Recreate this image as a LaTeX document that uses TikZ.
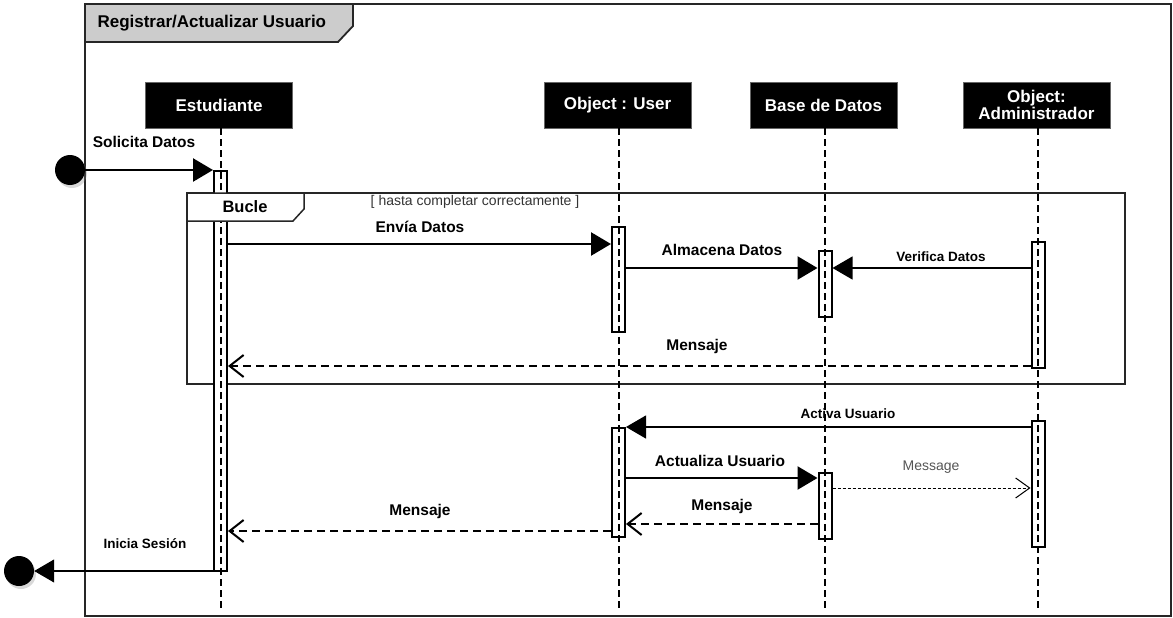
\documentclass[tikz,border=0pt]{standalone}
\usepackage{fontspec}
\setmainfont{Liberation Sans}
\usetikzlibrary{arrows.meta, positioning, calc, shadows}
\definecolor{tabgray}{HTML}{CCCCCC}
\definecolor{notegray}{HTML}{555555}

\begin{document}
\begin{tikzpicture}[x=1pt, y=-1pt,
  frame/.style={draw=black!85, line width=2pt},
  tab/.style={draw=black!85, line width=1.8pt, fill=#1},
  actor/.style={rectangle, fill=black, draw=black!60, text=white, font=\fontsize{17}{15.5}\selectfont\bfseries, minimum width=147pt, minimum height=46pt, align=center, inner sep=0pt},
  bar/.style={rectangle, draw=black, fill=white, line width=2pt, minimum width=13pt, minimum height=#1, inner sep=0pt},
  lifeline/.style={line width=2pt, dash pattern=on 7pt off 4pt},
  dot/.style={circle, fill=black, minimum size=30pt, inner sep=0pt, drop shadow={shadow xshift=2pt, shadow yshift=-3pt, opacity=0.3}},
  call/.style={line width=2.5pt, -{Triangle[length=20pt, width=23pt]}},
  signal/.style={line width=1.2pt, -{Triangle[length=20pt, width=23pt]}},
  reply/.style={line width=2.5pt, dash pattern=on 8pt off 5pt, -{Straight Barb[length=14pt, width=22pt, line width=2pt]}},
  note/.style={line width=1pt, dash pattern=on 3pt off 2pt, -{Straight Barb[length=14pt, width=20pt, line width=1pt]}},
  lbl/.style={font=\fontsize{15.5}{16}\selectfont\bfseries, inner sep=0pt},
  small/.style={font=\fontsize{13.5}{14}\selectfont\bfseries, inner sep=0pt},
  guard/.style={font=\fontsize{14}{14}\selectfont, text=#1, inner sep=0pt},
  guard/.default=black!80
]
  \useasboundingbox (0,0) rectangle (1173,618);

  % outer frame
  \draw[frame] (85,4) rectangle (1171,616);
  \draw[tab=tabgray] (85,4) -- (353,4) -- (353,26) -- (338,42) -- (85,42) -- cycle;
  \node[font=\fontsize{17}{17}\selectfont\bfseries, anchor=west] (title) at (94,23) {Registrar/Actualizar Usuario};

  % loop fragment
  \draw[frame, line width=1.5pt] (187,193) rectangle (1125,384);

  % lifeline heads
  \node[actor] (est) at (219,105) {Estudiante};
  \node[actor] (usr) at (617.5,105) {Object : User};
  \node[actor] (bd) at (823.5,105) {Base de Datos};
  \node[actor] (adm) at (1036.5,105) {Object:\\Administrador};

  % activations
  \node[bar=400pt] (estbar) at (220.5,371) {};
  \node[bar=105pt] (usr1) at (618.5,279.5) {};
  \node[bar=109pt] (usr2) at (618.5,482.5) {};
  \node[bar=66pt] (bd1) at (825,284) {};
  \node[bar=66pt] (bd2) at (825,506) {};
  \node[bar=126pt] (adm1) at (1038,305) {};
  \node[bar=126pt] (adm2) at (1038,484) {};

  \draw[lifeline] (est.south -| estbar) -- (estbar |- 0,612);
  \draw[lifeline] (usr.south -| usr1) -- (usr1 |- 0,612);
  \draw[lifeline] (bd.south -| bd1) -- (bd1 |- 0,612);
  \draw[lifeline] (adm.south -| adm1) -- (adm1 |- 0,612);

  % loop tab on top
  \draw[tab=white, line width=1.5pt] (187,193) -- (304,193) -- (304,209) -- (293,221) -- (187,221) -- cycle;
  \node[font=\fontsize{16.5}{17}\selectfont\bfseries] (bucle) at (245,207) {Bucle};
  \node[guard] (cond) at (475,202) {[ hasta completar correctamente ]};

  % start and end
  \node[dot] (ini) at (70,170) {};
  \node[dot] (fin) at (19,571) {};

  % messages
  \draw[call] (ini.east) -- (estbar.west |- ini);
  \node[lbl] (lsol) at (144,142) {Solicita Datos};

  \draw[call] (estbar.east |- 0,244) -- (usr1.west |- 0,244);
  \node[lbl] (lenv) at (420,227) {Envía Datos};

  \draw[call] (usr1.east |- 0,268) -- (bd1.west |- 0,268);
  \node[lbl] (lalm) at (722,250) {Almacena Datos};

  \draw[signal] (adm1.west |- 0,268) -- (bd1.east |- 0,268);
  \node[small] (lver) at (941,257) {Verifica Datos};

  \draw[reply] (adm1.west |- 0,366) -- (estbar.east |- 0,366);
  \node[lbl] (lmen1) at (697,346) {Mensaje};

  \draw[signal] (adm2.west |- 0,427) -- (usr2.east |- 0,427);
  \node[small] (lact) at (848,414) {Activa Usuario};

  \draw[call] (usr2.east |- 0,478) -- (bd2.west |- 0,478);
  \node[lbl] (lupd) at (720,461) {Actualiza Usuario};

  \draw[note] (bd2.east |- 0,488) -- (adm2.west |- 0,488);
  \node[guard=notegray] (lmsg) at (931,467) {Message};

  \draw[reply] (bd2.west |- 0,524) -- (usr2.east |- 0,524);
  \node[lbl] (lmen2) at (722,506) {Mensaje};

  \draw[reply] (usr2.west |- 0,531) -- (estbar.east |- 0,531);
  \node[lbl] (lmen3) at (420,511) {Mensaje};

  \draw[signal] (estbar.west |- fin) -- (fin.east);
  \node[small] (lini) at (145,544) {Inicia Sesión};
\end{tikzpicture}
\end{document}
